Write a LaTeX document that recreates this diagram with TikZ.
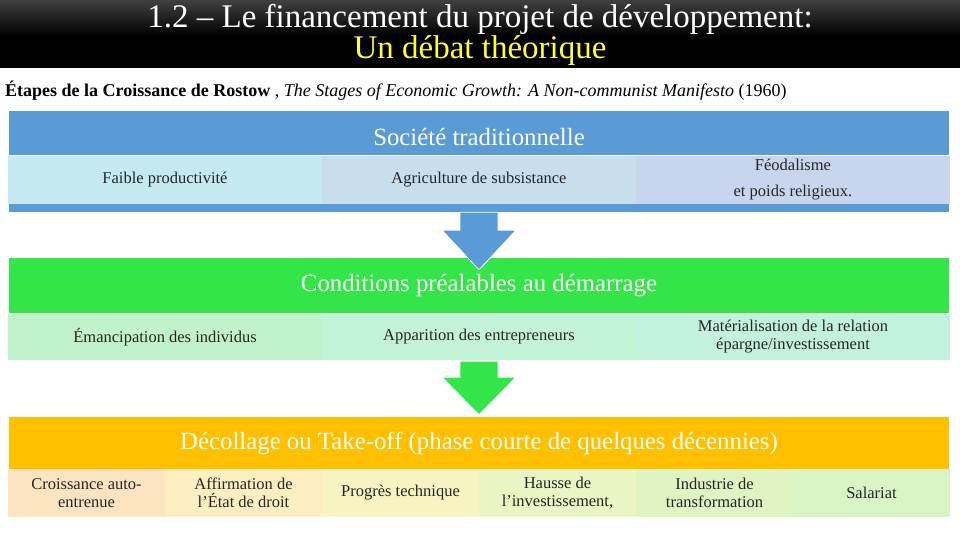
\documentclass[tikz,border=0pt]{standalone}
\usepackage{fontspec}
\setmainfont{Liberation Serif}
\usetikzlibrary{calc}

\definecolor{bluehd}{HTML}{5B9BD5}
\definecolor{bluec1}{HTML}{C5E9F0}
\definecolor{bluec2}{HTML}{C8DEED}
\definecolor{bluec3}{HTML}{C7D6EC}
\definecolor{greenhd}{HTML}{33E548}
\definecolor{greenc1}{HTML}{C0F3CB}
\definecolor{greenc2}{HTML}{C3F3D6}
\definecolor{greenc3}{HTML}{C2F2DD}
\definecolor{orangehd}{HTML}{FFC000}
\definecolor{oc0}{HTML}{FDE4C0}
\definecolor{oc1}{HTML}{FCEEC0}
\definecolor{oc2}{HTML}{F6F5C1}
\definecolor{oc3}{HTML}{E9F5C2}
\definecolor{oc4}{HTML}{DFF3C3}
\definecolor{oc5}{HTML}{D8F3C4}
\definecolor{titleyellow}{HTML}{FFFF33}

\tikzset{
  hdrbox/.style={inner sep=0pt, text=white, minimum width=940pt,
    font=\fontsize{24.8}{26}\selectfont},
  cellbox/.style={inner sep=0pt, align=center, text=black!85,
    font=\fontsize{16.5}{18}\selectfont},
  bigarrow/.style={draw=white, line width=0.8pt},
}

\begin{document}
\begin{tikzpicture}[x=1pt,y=-1pt]
\useasboundingbox (0,0) rectangle (960,540);

% bandeau du titre
\fill[black] (0,0) rectangle (960,68);
\shade[top color=black!75, bottom color=black] (0,0) rectangle (960,36);
\node[text=white, align=center, inner sep=0pt, font=\fontsize{33}{29}\selectfont] (titre) at (480,35)
  {1.2 – Le financement du projet de développement:\\\textcolor{titleyellow}{Un débat théorique}};
\node[anchor=west, inner sep=0pt, font=\fontsize{18}{20}\selectfont] (source) at (5,91)
  {\textbf{Étapes de la Croissance de Rostow} , \textit{The Stages of Economic Growth: A Non-communist Manifesto} (1960)};

% societe traditionnelle
\node[hdrbox, fill=bluehd, minimum height=44pt, text height=26pt, text depth=0pt] (soc) at (479,133) {Société traditionnelle};
\node[cellbox, fill=bluec1, minimum width=314pt, minimum height=48pt] (soc1) at (165,180) {Faible productivité};
\node[cellbox, fill=bluec2, minimum width=314pt, minimum height=48pt] (soc2) at (479,180) {Agriculture de subsistance};
\node[cellbox, fill=bluec3, minimum width=314pt, minimum height=48pt] (soc3) at (793,180) {Féodalisme\\[8pt]et poids religieux.};
\node[fill=bluehd, inner sep=0pt, minimum width=940pt, minimum height=8pt] (socbar) at (479,208) {};

% conditions prealables
\node[hdrbox, fill=greenhd, minimum height=55pt] (cond) at (479,285.5) {Conditions préalables au démarrage};
\node[cellbox, fill=greenc1, minimum width=314pt, minimum height=46pt] (cond1) at (165,337) {Émancipation des individus};
\node[cellbox, fill=greenc2, minimum width=314pt, minimum height=46pt] (cond2) at (479,337) {Apparition des entrepreneurs};
\node[cellbox, fill=greenc3, minimum width=314pt, minimum height=46pt] (cond3) at (793,337) {Matérialisation de la relation\\épargne/investissement};

% decollage
\node[hdrbox, fill=orangehd, minimum height=52pt] (take) at (479,443) {Décollage ou Take-off (phase courte de quelques décennies)};
\foreach \i/\c/\t in {0/oc0/{Croissance auto-\\entrenue},
                      1/oc1/{Affirmation de\\l’État de droit},
                      2/oc2/{Progrès technique},
                      3/oc3/{Hausse de\\l’investissement,},
                      4/oc4/{Industrie de\\transformation},
                      5/oc5/{Salariat}}
  \node[cellbox, fill=\c, minimum width=157pt, minimum height=48pt] (take\i) at (86.5+157*\i,493) {\t};

% fleches
\filldraw[bigarrow, fill=bluehd] ($(socbar.south)+(-19,0)$) -- ($(socbar.south)+(19,0)$)
  -- ($(socbar.south)+(19,18)$) -- ($(socbar.south)+(37,18)$) -- ($(cond.north)+(0,12)$)
  -- ($(socbar.south)+(-37,18)$) -- ($(socbar.south)+(-19,18)$) -- cycle;
\filldraw[bigarrow, fill=greenhd] ($(cond2.south)+(-19,1)$) -- ($(cond2.south)+(19,1)$)
  -- ($(cond2.south)+(19,17)$) -- ($(cond2.south)+(37,17)$) -- ($(take.north)+(0,-2)$)
  -- ($(cond2.south)+(-37,17)$) -- ($(cond2.south)+(-19,17)$) -- cycle;
\end{tikzpicture}
\end{document}
